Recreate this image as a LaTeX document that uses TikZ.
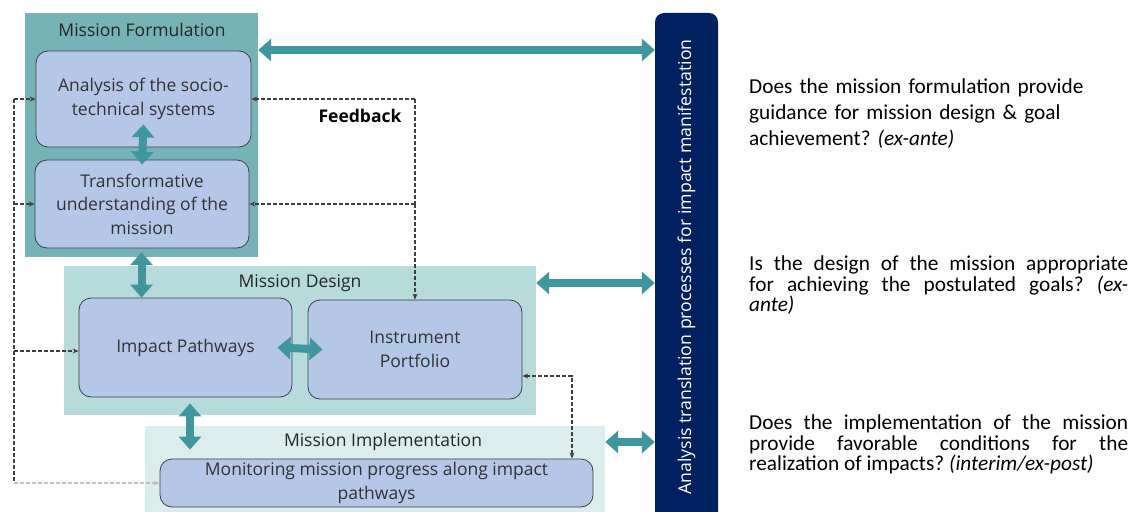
\documentclass[tikz,border=0pt]{standalone}
\usepackage{fontspec}
\setmainfont{Open Sans}
\newfontfamily\qfont{Carlito}
\usetikzlibrary{arrows.meta}
\usetikzlibrary{positioning}

\definecolor{formfill}{HTML}{76B3B7}
\definecolor{designfill}{HTML}{B7DADB}
\definecolor{implfill}{HTML}{DCEDED}
\definecolor{boxfill}{HTML}{B4C7E7}
\definecolor{boxline}{HTML}{404040}
\definecolor{flowteal}{HTML}{3F969D}
\definecolor{navy}{HTML}{002060}
\definecolor{fbgray}{HTML}{404040}

\tikzset{
  panel/.style={fill=#1, inner sep=0pt},
  stage/.style={draw=boxline, fill=boxfill, rounded corners=12pt, line width=0.8pt,
    align=center, inner sep=0pt, font=\fontsize{17.5}{23.5}\selectfont, text=black!80},
  paneltitle/.style={font=\fontsize{17.5}{21}\selectfont, text=black!85},
  bigarrow/.style={draw=flowteal, line width=8pt,
    {Triangle[width=22pt,length=13pt]}-{Triangle[width=22pt,length=13pt]}},
  fbline/.style={draw=fbgray, line width=1.2pt, dash pattern=on 4pt off 2pt,
    -{Stealth[length=6pt,width=5pt]}},
  question/.style={font=\qfont\fontsize{21.3}{20.5}\selectfont\frenchspacing, text width=379pt,
    align=justify, anchor=north west, inner sep=0pt},
}

\begin{document}
\begin{tikzpicture}[x=1pt, y=-1pt]
\useasboundingbox (0,0) rectangle (1137,511);

% the three stages
\node [panel=formfill, minimum width=233pt, minimum height=244pt] (form) at (141.5,135) {};
\node [panel=designfill, minimum width=472pt, minimum height=149pt] (design) at (300,340.5) {};
\node [panel=implfill, minimum width=460pt, minimum height=100pt] (impl) at (375,476) {};
\node [paneltitle] (formtitle) at (142,30) {Mission Formulation};
\node [paneltitle] (designtitle) at (300,283) {Mission Design};
\node [paneltitle] (impltitle) at (383,442) {Mission Implementation};

\node [stage, minimum width=215pt, minimum height=96pt] (analysis) at (143.5,99)
  {Analysis of the socio-\\technical systems};
\node [stage, minimum width=214pt, minimum height=88pt] (transf) at (142,204)
  {Transformative\\understanding of the\\mission};
\node [stage, minimum width=213pt, minimum height=99pt] (impact) at (185.5,347.5)
  {Impact Pathways};
\node [stage, minimum width=214pt, minimum height=99pt] (instr) at (415,349.5)
  {Instrument\\Portfolio};
\node [stage, minimum width=433pt, minimum height=48pt] (monitor) at (376.5,483)
  {Monitoring mission progress along impact\\pathways};

% translation bar, runs off the bottom edge
\node [fill=navy, rounded corners=9pt, minimum width=63pt, minimum height=527pt, inner sep=0pt]
  (bar) at (686.5,276.5) {};
\node [rotate=90, text=white, font=\fontsize{17.7}{21}\selectfont] (barlabel) at (686.5,267)
  {Analysis translation processes for impact manifestation};

% solid links
\coordinate (fz) at (0,50);
\coordinate (dz) at (0,283);
\coordinate (iz) at (0,442);
\draw [bigarrow] (form.east |- fz) -- (bar.west |- fz);
\draw [bigarrow] (design.east |- dz) -- (bar.west |- dz);
\draw [bigarrow] (impl.east |- iz) -- (bar.west |- iz);
\draw [bigarrow] ([yshift=23pt]analysis.south) -- ([yshift=-5pt]transf.north);
\draw [bigarrow] ([yshift=5pt]form.south) -- (form.south |- impact.north);
\draw [bigarrow] ([xshift=-15pt]impact.east) -- ([xshift=15pt]instr.west);
\draw [bigarrow] ([xshift=4.5pt,yshift=-6pt]impact.south) -- ([xshift=4.5pt,yshift=9pt]impact.south |- monitor.north);

% feedback loops
\coordinate (lx) at (14,0);
\coordinate (rx) at (415,0);
\coordinate (ix) at (572,376);
\coordinate (px) at (0,351);
\draw [fbline, -] (lx |- analysis.west) -- (lx |- monitor.west);
\draw [fbline] (lx |- analysis.west) -- (analysis.west);
\draw [fbline] (lx |- transf.west) -- (transf.west);
\draw [fbline] (lx |- px) -- (impact.west |- px);
\draw [fbline, draw=black!25] (lx |- monitor.west) -- (monitor.west);
\draw [fbline, -] (rx |- analysis.east) -- (rx |- transf.east);
\draw [fbline] (rx |- analysis.east) -- (analysis.east);
\draw [fbline] (rx |- transf.east) -- (transf.east);
\draw [fbline] (rx |- transf.east) -- (instr.north);
\draw [fbline, {Stealth[length=6pt,width=5pt]}-{Stealth[length=6pt,width=5pt]}]
  (instr.east |- ix) -| (ix |- monitor.north);
\node [font=\bfseries\fontsize{17.5}{21}\selectfont] (fblabel) at (360,116) {Feedback};

% evaluation questions
\node [question, align=left] (q1) at (749,79) {Does the mission formulation provide\\[5.5pt]
  guidance for mission design \& goal\\[5.5pt] achievement? \textit{(ex-ante)}};
\node [question] (q2) at (749,256) {Is the design of the mission appropriate\linebreak
  for achieving the postulated goals? \textit{(ex-}\linebreak\textit{ante)}};
\node [question] (q3) at (749,415) {Does the implementation of the mission\linebreak
  provide favorable conditions for the\linebreak
  realization of impacts? \textit{(interim/ex-post)}};
\end{tikzpicture}
\end{document}
